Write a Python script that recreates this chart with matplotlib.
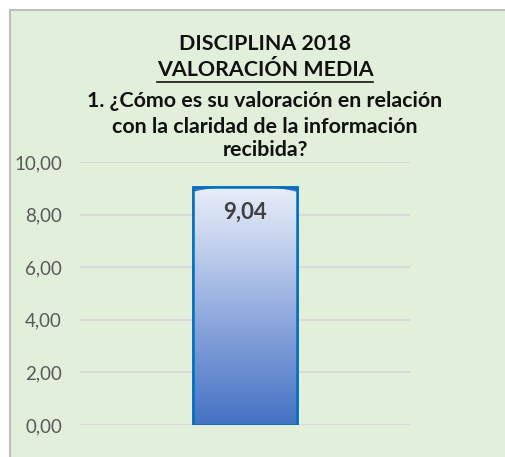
import numpy as np
import matplotlib.pyplot as plt
from matplotlib.patches import Rectangle, Polygon
from matplotlib.colors import LinearSegmentedColormap

plt.rcParams['font.family'] = ['Lato', 'DejaVu Sans']

categories = ['']
values = [9.04]
value_labels = ['9,04']
yticks = [0, 2, 4, 6, 8, 10]
ytick_labels = ['0,00', '2,00', '4,00', '6,00', '8,00', '10,00']
title_lines = ['DISCIPLINA 2018', 'VALORACIÓN MEDIA',
               '1. ¿Cómo es su valoración en relación',
               'con la claridad de la información', 'recibida?']

fig = plt.figure(figsize=(5.05, 4.57), dpi=100)
fig.patch.set_facecolor('white')
# chart area background with grey frame
fig.patches.append(Rectangle((10 / 505, -0.01), 1, 1.01 - 10 / 457, transform=fig.transFigure,
                             facecolor='#E2EFDA', edgecolor='#BFBFBF', lw=1.5, zorder=-5))

ax = fig.add_axes([80 / 505, 32 / 457, 330 / 505, 263 / 457])
ax.set_facecolor('none')
ax.set_xlim(-0.5, 0.5)
ax.set_ylim(0, 10)
for s in ax.spines.values():
    s.set_visible(False)
ax.set_yticks(yticks)
ax.set_yticklabels(ytick_labels, fontsize=13.5, color='#595959')
ax.tick_params(length=0, pad=13)
ax.set_xticks([])
ax.yaxis.grid(True, color='#D9D9D9', lw=1.5)
ax.set_axisbelow(True)

bars = ax.bar(range(len(values)), values, width=0.318, color='#3E6CC4',
              edgecolor='#0070C0', lw=1.8, zorder=2)

cmap = LinearSegmentedColormap.from_list(
    'g', [(0, '#4472C4'), (0.35, '#7E9CD8'), (0.6, '#A9BDE5'), (0.85, '#D0DCF1'), (1, '#E8EEF8')])
for b, lab in zip(bars, value_labels):
    x0, w, h = b.get_x(), b.get_width(), b.get_height()
    grad = np.linspace(0, 1, 256).reshape(-1, 1)
    im = ax.imshow(grad, cmap=cmap, origin='lower', aspect='auto',
                   extent=(x0, x0 + w, 0, h), zorder=2.5)
    xs = np.linspace(x0, x0 + w, 80)
    top = h - 0.18 * np.abs((xs - (x0 + w / 2)) / (w / 2)) ** 3
    pts = [(x0, 0)] + list(zip(xs, top)) + [(x0 + w, 0)]
    clip = Polygon(pts, closed=True, transform=ax.transData)
    im.set_clip_path(clip)
    edge = Rectangle((x0, 0), w, h, fill=False, edgecolor='#0070C0', lw=1.8, zorder=3)
    ax.add_patch(edge)
    ax.text(x0 + w / 2, h - 0.95, lab, ha='center', va='center', fontsize=16,
            fontweight='bold', color='#404040', zorder=4)

ys = [44, 70, 101, 127, 150]
for t, y in zip(title_lines, ys):
    fig.text(265 / 505, 1 - y / 457, t, ha='center', va='center', fontsize=15.4,
             fontweight='bold', color='#111111')
# underline second title line
fig.add_artist(plt.Line2D([157 / 505, 373 / 505], [1 - 82 / 457, 1 - 82 / 457],
                          color='#111111', lw=1.2))

fig.savefig('out.png', dpi=100, facecolor=fig.get_facecolor())
